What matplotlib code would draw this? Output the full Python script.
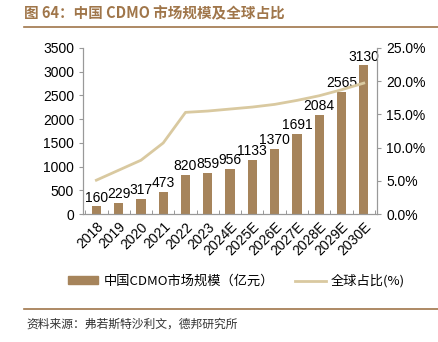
import numpy as np
import matplotlib.pyplot as plt
from matplotlib.lines import Line2D
from matplotlib.patches import Patch

plt.rcParams['font.family'] = ['Noto Sans CJK SC', 'DejaVu Sans']

# 数据
years = ['2018', '2019', '2020', '2021', '2022', '2023', '2024E', '2025E',
         '2026E', '2027E', '2028E', '2029E', '2030E']
market = [160, 229, 317, 473, 820, 859, 956, 1133, 1370, 1691, 2084, 2565, 3130]
share = [5.1, 6.6, 8.1, 10.7, 15.3, 15.5, 15.8, 16.1, 16.5, 17.1, 17.8, 18.7, 19.7]

bar_color = '#A6845B'
line_color = '#D9C9A0'
brown = '#A0764A'

fig = plt.figure(figsize=(4.38, 3.42), dpi=100)
ax = fig.add_axes([0.1895, 0.374, 0.6715, 0.486])
ax2 = ax.twinx()

x = np.arange(len(years))
ax.bar(x, market, width=0.42, color=bar_color, zorder=2)
for xi, v in zip(x, market):
    ax.text(xi, v + 40, str(v), ha='center', va='bottom', fontsize=10,
            family='Liberation Sans')

ax2.plot(x, share, color=line_color, lw=2)

ax.set_xlim(-0.6, len(years) - 0.4)
ax.set_ylim(0, 3500)
ax.set_yticks(range(0, 3501, 500))
ax2.set_ylim(0, 25)
ax2.set_yticks(np.arange(0, 25.1, 5))
ax2.set_yticklabels([f'{v:.1f}%' for v in np.arange(0, 25.1, 5)])

ax.set_xticks(x)
ax.set_xticklabels(years, rotation=45, ha='right', rotation_mode='anchor',
                   family='Liberation Sans', fontsize=10)
ax.set_xticks(np.arange(-0.5, len(years), 1), minor=True)
ax.tick_params(axis='x', which='major', length=0, pad=4)
ax.tick_params(axis='x', which='minor', length=3, direction='in', color='#888888')

for a in (ax, ax2):
    for s in a.spines.values():
        s.set_color('#999999')
    a.spines['top'].set_visible(False)
    a.tick_params(axis='y', length=3, color='#999999', labelsize=10)
    for t in a.get_yticklabels():
        t.set_family('Liberation Sans')

# 标题
fig.text(0.055, 0.962, '图 64：中国 CDMO 市场规模及全球占比', color=brown,
         fontsize=10.5, fontweight='bold', va='center')
fig.add_artist(Line2D([0.055, 1.0], [0.921, 0.921], color=brown, lw=1.2))

# 图例
handles = [Patch(color=bar_color), Line2D([0], [0], color=line_color, lw=2)]
fig.legend(handles, ['中国CDMO市场规模（亿元）', '全球占比(%)'], loc='center',
           bbox_to_anchor=(0.54, 0.178), ncol=2, frameon=False, fontsize=9.5,
           handlelength=2.3, columnspacing=1.6, handleheight=0.55,
           handletextpad=0.4)

# 来源
fig.add_artist(Line2D([0.055, 1.0], [0.097, 0.097], color=brown, lw=1.2))
fig.text(0.06, 0.052, '资料来源：弗若斯特沙利文，德邦研究所', fontsize=8.5,
         color='#333333', va='center')

fig.savefig('out.png', dpi=100)
